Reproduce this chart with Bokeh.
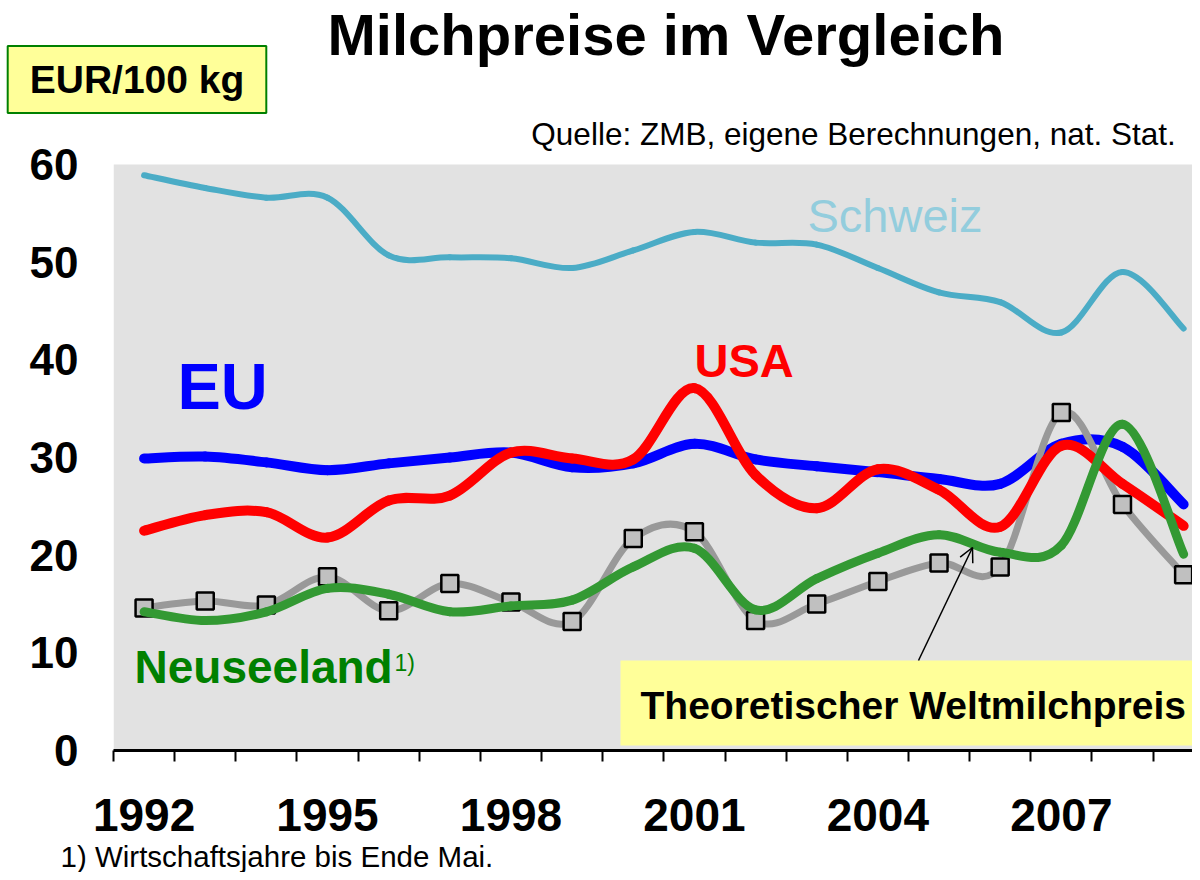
from bokeh.plotting import figure
from bokeh.layouts import column, row
from bokeh.models import Label, Arrow, OpenHead, FixedTicker, Range1d
from bokeh.embed import file_html
from bokeh.resources import INLINE

# ---------------- data ----------------
years = list(range(1992, 2010))
schweiz = [58.9, 57.6, 56.6, 56.6, 50.7, 50.5, 50.4, 49.4, 51.2, 53.1, 52.0, 51.8, 49.4, 46.9, 45.9, 42.8, 49.0, 43.2]
eu = [29.9, 30.1, 29.5, 28.7, 29.4, 30.0, 30.5, 29.0, 29.4, 31.4, 29.8, 29.1, 28.5, 27.8, 27.3, 31.4, 31.1, 25.2]
usa = [22.5, 24.1, 24.4, 21.8, 25.6, 26.1, 30.5, 29.9, 29.8, 37.1, 28.2, 24.8, 28.8, 26.7, 22.9, 31.2, 27.3, 23.0]
neuseeland = [14.2, 13.3, 14.2, 16.6, 16.0, 14.2, 14.8, 15.4, 18.8, 20.7, 14.4, 17.6, 20.2, 22.1, 20.3, 21.0, 33.4, 20.1]
weltmilch = [14.6, 15.3, 14.9, 17.8, 14.3, 17.1, 15.2, 13.2, 21.7, 22.4, 13.3, 15.0, 17.3, 19.2, 18.8, 34.6, 25.2, 18.0]

x_tick_years = [1992, 1995, 1998, 2001, 2004, 2007]
x_tick_labels = ["1992", "1995", "1998", "2001", "2004", "2007"]
y_ticks = [0, 10, 20, 30, 40, 50, 60]
y_max = 60

# ---------------- layout constants (page px) ----------------
FONT = "Liberation Sans"
W = 1192
TOP_H = 114                  # header strip (title, unit box)
FL, FB = 113, 750            # frame left / bottom
PLOT_TOP = 164               # top of the grey plot area (value 60)
PX_PER_UNIT = (FB - PLOT_TOP) / y_max
FW, FH = W - FL, FB - TOP_H
MAIN_BOTTOM = 89
BOT_H = 872 - (FB + MAIN_BOTTOM)  # footnote strip
PX_PER_YEAR = 61.15
X0 = 1991.5
X1 = X0 + FW / PX_PER_YEAR
Y1 = FH / PX_PER_UNIT


def strip(h):
    f = figure(width=W, height=h, x_range=Range1d(0, 1), y_range=Range1d(0, 1),
               x_axis_type=None, y_axis_type=None, output_backend="svg", toolbar_location=None,
               min_border=0, min_border_left=0, min_border_right=0, min_border_top=0,
               min_border_bottom=0, outline_line_color=None, background_fill_color="white",
               border_fill_color="white")
    f.grid.visible = False
    return f


def lab(fig, text, X, Y, size, y_base, x_base=0, color="black", bold=False, align="left", **kw):
    # (X, Y): page position of the text's left/centre/right edge and its vertical middle
    l = Label(x=X - x_base, y=y_base - Y, x_units="screen", y_units="screen", text=text,
              text_font=FONT, text_font_size=size, text_color=color,
              text_font_style="bold" if bold else "normal",
              text_align=align, text_baseline="middle", **kw)
    fig.add_layout(l)
    return l


# ---------------- header ----------------
top = strip(TOP_H)
lab(top, "Milchpreise im Vergleich", 665.5, 34, "58px", TOP_H, bold=True, align="center")
lab(top, "EUR/100 kg", 136.5, 79, "39px", TOP_H, bold=True, align="center",
    background_fill_color="#FFFF99", border_line_color="#008000", border_line_width=2,
    padding=(22, 12))

# ---------------- main chart ----------------
p = figure(frame_width=FW, frame_height=FH,
           x_range=Range1d(X0, X1), y_range=Range1d(0, Y1),
           output_backend="svg", toolbar_location=None,
           min_border_left=FL, min_border_right=0,
           min_border_top=0, min_border_bottom=MAIN_BOTTOM,
           background_fill_color="white", border_fill_color="white",
           outline_line_color=None)
p.grid.visible = False

xa = p.xaxis[0]
xa.ticker = FixedTicker(ticks=x_tick_years, minor_ticks=[y - 0.5 for y in years] + [years[-1] + 0.5])
xa.major_label_overrides = {y: l for y, l in zip(x_tick_years, x_tick_labels)}
xa.axis_line_color = "black"
xa.axis_line_width = 3
xa.major_tick_in = 0
xa.major_tick_out = 0
xa.minor_tick_in = 0
xa.minor_tick_out = 11
xa.minor_tick_line_width = 2
xa.minor_tick_line_color = "black"
xa.major_label_text_font = FONT
xa.major_label_text_font_style = "bold"
xa.major_label_text_font_size = "46px"
xa.major_label_text_color = "black"
xa.major_label_standoff = 37

ya = p.yaxis[0]
ya.ticker = FixedTicker(ticks=y_ticks)
ya.axis_line_color = None
ya.major_tick_in = 0
ya.major_tick_out = 0
ya.minor_tick_line_color = None
ya.major_label_text_font = FONT
ya.major_label_text_font_style = "bold"
ya.major_label_text_font_size = "44px"
ya.major_label_text_color = "black"
ya.major_label_standoff = 35


def xdata(X):
    return X0 + (X - FL) / PX_PER_YEAR


def ydata(Y):
    return (FB - Y) / PX_PER_UNIT


# grey plot area (0 .. 60)
p.quad(left=X0, right=X1 + 1, bottom=0, top=y_max, fill_color="#E2E2E2", line_color=None)
# yellow box for "Theoretischer Weltmilchpreis"
p.quad(left=xdata(620), right=X1 + 1, bottom=ydata(745), top=ydata(660),
       fill_color="#FFFF99", line_color=None)


def smooth(xs, ys):
    n = len(xs)
    d = dict(x0=[], y0=[], x1=[], y1=[], cx0=[], cy0=[], cx1=[], cy1=[])
    for i in range(n - 1):
        im = max(i - 1, 0)
        ip = min(i + 2, n - 1)
        d["x0"].append(xs[i]); d["y0"].append(ys[i])
        d["x1"].append(xs[i + 1]); d["y1"].append(ys[i + 1])
        d["cx0"].append(xs[i] + (xs[i + 1] - xs[im]) / 6.0)
        d["cy0"].append(ys[i] + (ys[i + 1] - ys[im]) / 6.0)
        d["cx1"].append(xs[i + 1] - (xs[ip] - xs[i]) / 6.0)
        d["cy1"].append(ys[i + 1] - (ys[ip] - ys[i]) / 6.0)
    return d


def curve(vals, color, width):
    p.bezier(source=smooth(years, vals), x0="x0", y0="y0", x1="x1", y1="y1",
             cx0="cx0", cy0="cy0", cx1="cx1", cy1="cy1",
             line_color=color, line_width=width, line_cap="round", line_join="round")


curve(schweiz, "#4BACC6", 6)
curve(eu, "#0000FF", 10)
curve(weltmilch, "#999999", 7)
p.scatter(years, weltmilch, marker="square", size=17, fill_color="#C0C0C0",
          line_color="black", line_width=2.5)
curve(usa, "#FF0000", 10)
curve(neuseeland, "#339933", 9)

lab(p, "Quelle: ZMB, eigene Berechnungen,  nat. Stat.", 1184, 133, "31.5px", FB, FL, align="right")
lab(p, "Schweiz", 807, 215, "47px", FB, FL, color="#93CDDD")
lab(p, "USA", 694, 360, "47px", FB, FL, color="#FF0000", bold=True)
lab(p, "EU", 177, 386, "65px", FB, FL, color="#0000FF", bold=True)
lab(p, "Neuseeland", 134, 666, "46px", FB, FL, color="#008000", bold=True)
lab(p, "1)", 394, 662, "23px", FB, FL, color="#008000")
lab(p, "Theoretischer  Weltmilchpreis", 640, 705, "39px", FB, FL, bold=True)

p.add_layout(Arrow(end=OpenHead(size=14, line_width=1.5, line_color="black"),
                   x_start=918 - FL, y_start=FB - 660, x_end=972 - FL, y_end=FB - 547,
                   start_units="screen", end_units="screen",
                   line_width=1.5, line_color="black"))

# ---------------- footnote ----------------
bot = strip(BOT_H)
lab(bot, "1) Wirtschaftsjahre bis Ende Mai.", 60, 855.5, "29.5px", 872)

layout = column(row(top), p, row(bot), spacing=0)
open("out.html", "w").write(file_html(layout, INLINE))
